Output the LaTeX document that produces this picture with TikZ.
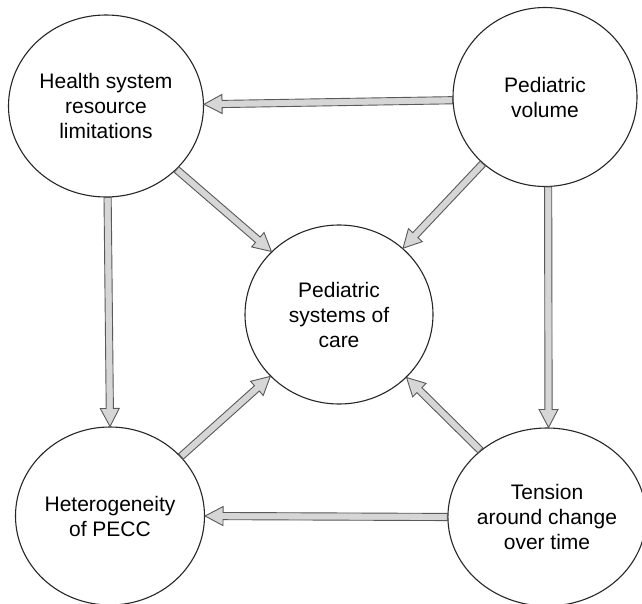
\documentclass[tikz,border=0pt]{standalone}
\usepackage{fontspec}
\setmainfont{Liberation Sans}
\usetikzlibrary{calc,shapes.geometric}
\tikzset{
  circ/.style={ellipse, draw=black!85, line width=1.1pt, inner sep=0pt, align=center,
    font=\fontsize{21}{25}\selectfont},
  fat/.style={draw=black!65, fill=black!16, line width=0.9pt, line join=miter},
}
\newcommand{\fatarrow}[2]{%
  \coordinate (fa-s) at (#1);
  \coordinate (fa-e) at (#2);
  \coordinate (fa-m) at ($(fa-e)!18pt!(fa-s)$);
  \draw[fat] ($(fa-s)!3.6pt!90:(fa-e)$) -- ($(fa-m)!3.6pt!90:(fa-e)$)
    -- ($(fa-m)!9.5pt!90:(fa-e)$) -- (fa-e) -- ($(fa-m)!9.5pt!-90:(fa-e)$)
    -- ($(fa-m)!3.6pt!-90:(fa-e)$) -- ($(fa-s)!3.6pt!-90:(fa-e)$) -- cycle;
}
\begin{document}
\begin{tikzpicture}[x=1pt,y=1pt]
\useasboundingbox (0,-604) rectangle (642,0);
\clip (0,-604) rectangle (642,0);
\fill[white] (0,-604) rectangle (642,0);
\node[circ, minimum width=195pt, minimum height=182pt] (tl) at (106,-106) {Health system\\resource\\limitations};
\node[circ, minimum width=184pt, minimum height=179pt] (tr) at (545,-97) {Pediatric\\volume};
\node[circ, minimum width=188pt, minimum height=179pt] (c) at (339,-314.5) {Pediatric\\systems of\\care};
\node[circ, minimum width=189pt, minimum height=178pt] (bl) at (110,-516) {Heterogeneity\\of PECC};
\node[circ, minimum width=189pt, minimum height=178pt] (br) at (547,-517) {Tension\\around change\\over time};
\fatarrow{tr.182.5}{tl.1.2}
\fatarrow{tl.-42.8}{c.137.8}
\fatarrow{tr.227.2}{c.46.1}
\fatarrow{tl.-89.4}{bl.90.6}
\fatarrow{tr.-88.7}{br.89.4}
\fatarrow{bl.40.1}{c.222.6}
\fatarrow{br.135}{c.-43.5}
\fatarrow{br.180}{bl.0}
\end{tikzpicture}
\end{document}
